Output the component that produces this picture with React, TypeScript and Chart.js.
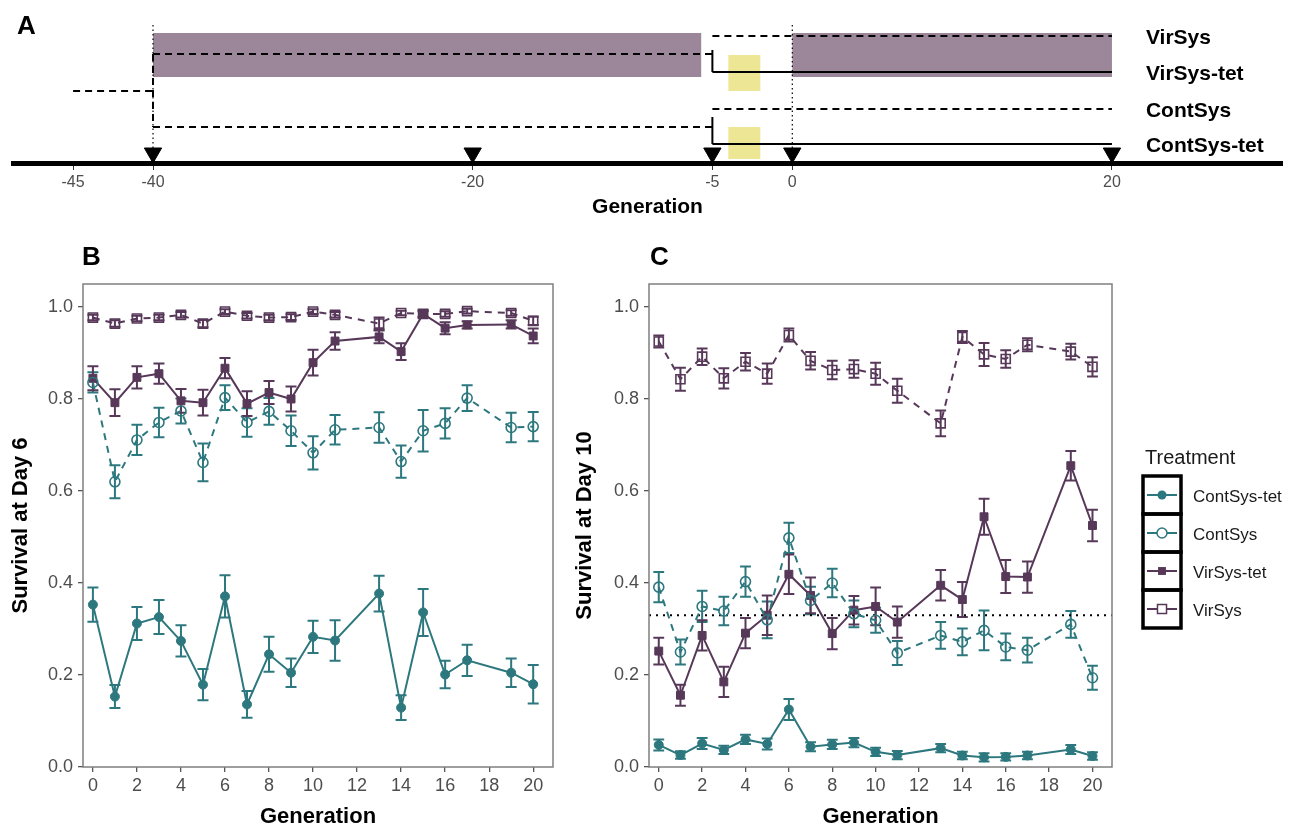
import React, { useEffect, useRef } from "react";
import { Chart, registerables } from "chart.js";
Chart.register(...registerables);

const FONT = "'Liberation Sans', Arial, Helvetica, sans-serif";
Chart.defaults.font.family = FONT;

const TEAL = "#2d787e";
const PURPLE = "#573859";
const MAUVE = "#9c879a";
const YELLOW = "#ece695";
const AXIS_TEXT = "#4d4d4d";
const FRAME = "#7f7f7f";

// ---------------- Panel A (experimental scheme) ----------------
const schemeTickValues = [-45, -40, -20, -5, 0, 20];
const transferGenerations = [-40, -20, -5, 0, 20];
const schemeRange = [-48.76, 30.64];
const laneNames = ["VirSys", "VirSys-tet", "ContSys", "ContSys-tet"];
const laneLevels = [1.6, 5.2, 8.9, 12.4];
const virusExposure = [[-40, -5.7], [0, 20]];
const virusBand = [1.3, 5.7];
const tetTreatment = [-4, -2];
const tetBands = [[3.5, 7.1], [10.7, 13.9]];
const referenceGenerations = [-40, 0];
const dashedPaths = [
  [-45, 7.1, -40, 7.1],
  [-40, 3.4, -40, 10.7],
  [-40, 3.4, -5, 3.4],
  [-40, 10.7, -5, 10.7],
  [-5, 1.6, 20, 1.6],
  [-5, 8.9, 20, 8.9],
];
const solidPaths = [
  [-5, 3.0, -5, 5.2],
  [-5, 5.2, 20, 5.2],
  [-5, 9.7, -5, 12.4],
  [-5, 12.4, 20, 12.4],
];
const schemeLevels = [0, 14.3]; // top of scheme, axis line
const transferMarkLevel = 13.3;

// ---------------- Panels B & C ----------------
const generations = [0, 1, 2, 3, 4, 5, 6, 7, 8, 9, 10, 11, 13, 14, 15, 16, 17, 19, 20];
const genTicks = [0, 2, 4, 6, 8, 10, 12, 14, 16, 18, 20];
const survivalTicks = [0, 0.2, 0.4, 0.6, 0.8, 1.0];
const treatments = ["ContSys-tet", "ContSys", "VirSys-tet", "VirSys"];
const genRange = [-0.45, 20.9];
const survivalRange = [0, 1.05];
const day10Reference = 0.33;

// Day 6
const day6ContSysTet = [0.353, 0.153, 0.312, 0.326, 0.274, 0.179, 0.371, 0.136, 0.245, 0.205, 0.283, 0.275, 0.377, 0.129, 0.336, 0.201, 0.232, 0.205, 0.180];
const day6ContSysTetSE = [0.037, 0.025, 0.036, 0.037, 0.034, 0.034, 0.046, 0.029, 0.038, 0.031, 0.035, 0.044, 0.039, 0.027, 0.051, 0.030, 0.034, 0.031, 0.042];
const day6ContSys = [0.836, 0.620, 0.711, 0.749, 0.774, 0.662, 0.803, 0.749, 0.773, 0.731, 0.683, 0.733, 0.738, 0.664, 0.731, 0.747, 0.802, 0.738, 0.740];
const day6ContSysSE = [0.022, 0.036, 0.033, 0.032, 0.027, 0.041, 0.027, 0.031, 0.029, 0.033, 0.036, 0.032, 0.033, 0.035, 0.045, 0.033, 0.028, 0.032, 0.032];
const day6VirSysTet = [0.845, 0.792, 0.847, 0.855, 0.796, 0.792, 0.867, 0.790, 0.814, 0.800, 0.879, 0.926, 0.935, 0.903, 0.985, 0.954, 0.961, 0.962, 0.937];
const day6VirSysTetSE = [0.026, 0.029, 0.024, 0.022, 0.026, 0.028, 0.022, 0.027, 0.025, 0.027, 0.028, 0.019, 0.014, 0.018, 0.008, 0.013, 0.008, 0.009, 0.016];
const day6VirSys = [0.977, 0.964, 0.975, 0.977, 0.983, 0.964, 0.990, 0.981, 0.977, 0.978, 0.990, 0.983, 0.964, 0.987, 0.985, 0.985, 0.991, 0.987, 0.970];
const day6VirSysSE = [0.006, 0.007, 0.006, 0.006, 0.006, 0.008, 0.005, 0.006, 0.006, 0.006, 0.005, 0.006, 0.013, 0.005, 0.006, 0.006, 0.005, 0.006, 0.009];

// Day 10
const day10ContSysTet = [0.048, 0.026, 0.051, 0.037, 0.060, 0.050, 0.125, 0.044, 0.049, 0.053, 0.033, 0.026, 0.041, 0.025, 0.021, 0.022, 0.025, 0.038, 0.024];
const day10ContSysTetSE = [0.012, 0.008, 0.012, 0.009, 0.010, 0.012, 0.023, 0.010, 0.010, 0.010, 0.009, 0.009, 0.009, 0.008, 0.009, 0.008, 0.008, 0.010, 0.008];
const day10ContSys = [0.391, 0.250, 0.349, 0.339, 0.403, 0.320, 0.498, 0.362, 0.400, 0.333, 0.319, 0.248, 0.286, 0.272, 0.297, 0.261, 0.254, 0.310, 0.194];
const day10ContSysSE = [0.033, 0.027, 0.034, 0.031, 0.033, 0.040, 0.033, 0.030, 0.031, 0.029, 0.027, 0.026, 0.029, 0.029, 0.043, 0.029, 0.027, 0.029, 0.026];
const day10VirSysTet = [0.252, 0.156, 0.286, 0.185, 0.291, 0.330, 0.419, 0.373, 0.290, 0.341, 0.349, 0.315, 0.395, 0.364, 0.544, 0.414, 0.413, 0.655, 0.525];
const day10VirSysTetSE = [0.029, 0.023, 0.033, 0.033, 0.033, 0.043, 0.043, 0.039, 0.034, 0.031, 0.041, 0.034, 0.033, 0.038, 0.039, 0.036, 0.034, 0.032, 0.034];
const day10VirSys = [0.925, 0.843, 0.892, 0.845, 0.881, 0.855, 0.939, 0.883, 0.863, 0.865, 0.855, 0.818, 0.747, 0.935, 0.897, 0.887, 0.918, 0.903, 0.870];
const day10VirSysSE = [0.013, 0.025, 0.018, 0.022, 0.019, 0.022, 0.014, 0.019, 0.020, 0.019, 0.024, 0.026, 0.028, 0.013, 0.025, 0.019, 0.014, 0.017, 0.021];

// series styles
const seriesStyle = [
  { color: TEAL, shape: "circle", filled: true, dashed: false, radius: 4.5 },
  { color: TEAL, shape: "circle", filled: false, dashed: true, radius: 5 },
  { color: PURPLE, shape: "rect", filled: true, dashed: false, radius: 5.6 },
  { color: PURPLE, shape: "rect", filled: false, dashed: true, radius: 6.4 },
];

// ---------------- plugins ----------------
const errorBarPlugin = {
  id: "errorBars",
  beforeDatasetsDraw(chart: any) {
    const { ctx, scales } = chart;
    const x = scales.x, y = scales.y;
    chart.data.datasets.forEach((ds: any) => {
      if (!ds.errs) return;
      const half = Math.abs(x.getPixelForValue(0.25) - x.getPixelForValue(0));
      ctx.save();
      ctx.strokeStyle = ds.borderColor;
      ctx.lineWidth = 2;
      ctx.setLineDash([]);
      ds.data.forEach((p: any, i: number) => {
        const e = ds.errs[i];
        const px = x.getPixelForValue(p.x);
        const t = y.getPixelForValue(p.y + e);
        const b = y.getPixelForValue(p.y - e);
        ctx.beginPath();
        ctx.moveTo(px, t); ctx.lineTo(px, b);
        ctx.moveTo(px - half, t); ctx.lineTo(px + half, t);
        ctx.moveTo(px - half, b); ctx.lineTo(px + half, b);
        ctx.stroke();
      });
      ctx.restore();
    });
  },
};

function framePlugin(letter: string, dx: number) {
  return {
    id: "frame" + letter,
    afterDraw(chart: any) {
      const { ctx, chartArea } = chart;
      ctx.save();
      ctx.strokeStyle = FRAME;
      ctx.lineWidth = 1.5;
      ctx.strokeRect(chartArea.left, chartArea.top, chartArea.right - chartArea.left, chartArea.bottom - chartArea.top);
      ctx.fillStyle = "#000";
      ctx.font = `bold 26px ${FONT}`;
      ctx.textAlign = "left";
      ctx.textBaseline = "middle";
      ctx.fillText(letter, chartArea.left + dx, chartArea.top - 26);
      ctx.restore();
    },
  };
}

function drawMarker(ctx: any, st: any, cx: number, cy: number) {
  ctx.save();
  ctx.strokeStyle = st.color;
  ctx.fillStyle = st.color;
  ctx.lineWidth = 1.5;
  ctx.beginPath();
  if (st.shape === "circle") ctx.arc(cx, cy, st.radius, 0, Math.PI * 2);
  else {
    const s = st.radius / Math.SQRT2;
    ctx.rect(cx - s, cy - s, 2 * s, 2 * s);
  }
  if (st.filled) ctx.fill();
  else {
    ctx.fillStyle = "#fff";
    ctx.fill();
    ctx.stroke();
  }
  ctx.restore();
}

const legendPlugin = {
  id: "treatmentLegend",
  afterDraw(chart: any) {
    const { ctx, chartArea } = chart;
    const left = chartArea.right + 31;
    const top = 246;
    const key = 38;
    ctx.save();
    ctx.fillStyle = "#1a1a1a";
    ctx.font = `20px ${FONT}`;
    ctx.textAlign = "left";
    ctx.textBaseline = "middle";
    ctx.fillText("Treatment", left + 2, top - 18);
    treatments.forEach((name, i) => {
      const st = seriesStyle[i];
      const y0 = top + i * key;
      const cy = y0 + key / 2;
      ctx.strokeStyle = st.color;
      ctx.lineWidth = 2;
      ctx.beginPath();
      ctx.moveTo(left + 4, cy);
      ctx.lineTo(left + key - 4, cy);
      ctx.stroke();
      drawMarker(ctx, st, left + key / 2, cy);
      ctx.fillStyle = "#1a1a1a";
      ctx.font = `17px ${FONT}`;
      ctx.fillText(name, left + 50, cy + 2);
    });
    ctx.strokeStyle = "#000";
    ctx.lineWidth = 3.5;
    for (let i = 0; i < treatments.length; i++) ctx.strokeRect(left, top + i * key, key, key);
    ctx.restore();
  },
};

const schemePlugin = {
  id: "scheme",
  beforeDatasetsDraw(chart: any) {
    const { ctx, scales } = chart;
    const x = scales.x, y = scales.y;
    ctx.save();
    ctx.fillStyle = MAUVE;
    virusExposure.forEach(([a, b]) => {
      const x0 = x.getPixelForValue(a), x1 = x.getPixelForValue(b);
      const y0 = y.getPixelForValue(virusBand[0]), y1 = y.getPixelForValue(virusBand[1]);
      ctx.fillRect(x0, y0, x1 - x0, y1 - y0);
    });
    ctx.fillStyle = YELLOW;
    tetBands.forEach(([a, b]) => {
      const x0 = x.getPixelForValue(tetTreatment[0]), x1 = x.getPixelForValue(tetTreatment[1]);
      const y0 = y.getPixelForValue(a), y1 = y.getPixelForValue(b);
      ctx.fillRect(x0, y0, x1 - x0, y1 - y0);
    });
    ctx.restore();
  },
  afterDraw(chart: any) {
    const { ctx, scales } = chart;
    const x = scales.x, y = scales.y;
    ctx.save();
    ctx.fillStyle = "#000";
    ctx.textAlign = "left";
    ctx.textBaseline = "middle";
    ctx.font = `bold 26px ${FONT}`;
    ctx.fillText("A", 17, 27);
    ctx.font = `bold 21px ${FONT}`;
    const lx = x.getPixelForValue(transferGenerations[transferGenerations.length - 1]) + 34;
    laneNames.forEach((n, i) => ctx.fillText(n, lx, y.getPixelForValue(laneLevels[i]) + 2));
    ctx.restore();
  },
};

// ---------------- configs ----------------
function seg(path: number[], dash: number[], width: number) {
  return {
    data: [{ x: path[0], y: path[1] }, { x: path[2], y: path[3] }],
    showLine: true,
    borderColor: "#000",
    borderWidth: width,
    borderDash: dash,
    pointRadius: 0,
    clip: false,
  };
}

function buildScheme() {
  const datasets: any[] = [
    {
      data: transferGenerations.map((g) => ({ x: g, y: transferMarkLevel })),
      pointStyle: "triangle",
      rotation: 180,
      pointRadius: 10,
      backgroundColor: "#000",
      borderColor: "#000",
      showLine: false,
      clip: false,
    },
    ...solidPaths.map((p) => seg(p, [], 2)),
    ...dashedPaths.map((p) => seg(p, [7, 5], 2)),
    ...referenceGenerations.map((g) => seg([g, schemeLevels[0] + 0.5, g, schemeLevels[1]], [1.5, 3], 1.2)),
  ];
  return {
    type: "scatter",
    data: { datasets },
    options: {
      animation: false,
      responsive: false,
      devicePixelRatio: 1,
      layout: { padding: { left: 13, right: 11, top: 20, bottom: 0 } },
      plugins: { legend: { display: false }, tooltip: { enabled: false } },
      scales: {
        x: {
          type: "linear",
          min: schemeRange[0],
          max: schemeRange[1],
          afterBuildTicks: (s: any) => { s.ticks = schemeTickValues.map((v) => ({ value: v })); },
          afterFit: (s: any) => { s.height = 65; },
          grid: { drawOnChartArea: false, drawTicks: true, tickLength: 7, color: "#333", lineWidth: 1 },
          border: { display: true, width: 5, color: "#000" },
          ticks: { color: AXIS_TEXT, font: { size: 16 }, padding: 3, maxRotation: 0, autoSkip: false },
          title: { display: true, text: "Generation", color: "#000", font: { size: 21, weight: "bold" }, padding: { top: 0, bottom: 8 } },
        },
        y: { display: false, min: schemeLevels[0], max: schemeLevels[1], reverse: true },
      },
    },
    plugins: [schemePlugin],
  };
}

function buildSurvival(letter: string, yTitle: string, series: number[][], errs: number[][], padRight: number, yWidth: number, titlePad: number, withRef: boolean) {
  const datasets: any[] = series.map((vals, i) => {
    const st = seriesStyle[i];
    return {
      label: treatments[i],
      data: generations.map((g, j) => ({ x: g, y: vals[j] })),
      errs: errs[i],
      showLine: true,
      borderColor: st.color,
      backgroundColor: st.color,
      borderWidth: 2,
      borderDash: st.dashed ? [7, 6] : [],
      pointStyle: st.shape,
      pointRadius: st.radius,
      pointBackgroundColor: st.filled ? st.color : "rgba(255,255,255,0)",
      pointBorderColor: st.color,
      pointBorderWidth: st.filled ? 1 : 1.6,
      clip: false,
    };
  });
  if (withRef) {
    datasets.push({
      data: [{ x: genRange[0], y: day10Reference }, { x: genRange[1], y: day10Reference }],
      showLine: true,
      borderColor: "#000",
      borderWidth: 2,
      borderDash: [2, 5],
      pointRadius: 0,
    });
  }
  return {
    type: "scatter",
    data: { datasets },
    options: {
      animation: false,
      responsive: false,
      devicePixelRatio: 1,
      layout: { padding: { left: 0, right: padRight, top: 54, bottom: 0 } },
      plugins: { legend: { display: false }, tooltip: { enabled: false } },
      scales: {
        x: {
          type: "linear",
          min: genRange[0],
          max: genRange[1],
          afterBuildTicks: (s: any) => { s.ticks = genTicks.map((v) => ({ value: v })); },
          afterFit: (s: any) => { s.height = 63; },
          grid: { drawOnChartArea: false, drawTicks: true, tickLength: 5, color: "#555", lineWidth: 1.3 },
          border: { display: false },
          ticks: { color: AXIS_TEXT, font: { size: 18 }, padding: 3, maxRotation: 0, autoSkip: false },
          title: { display: true, text: "Generation", color: "#000", font: { size: 22, weight: "bold" }, padding: { top: 0, bottom: 0 } },
        },
        y: {
          type: "linear",
          min: survivalRange[0],
          max: survivalRange[1],
          afterBuildTicks: (s: any) => { s.ticks = survivalTicks.map((v) => ({ value: v })); },
          afterFit: (s: any) => { s.width = yWidth; },
          grid: { drawOnChartArea: false, drawTicks: true, tickLength: 5, color: "#555", lineWidth: 1.3 },
          border: { display: false },
          ticks: { color: AXIS_TEXT, font: { size: 18 }, padding: 5, callback: (v: any) => Number(v).toFixed(1) },
          title: { display: true, text: yTitle, color: "#000", font: { size: 22, weight: "bold" }, padding: { top: titlePad, bottom: 0 } },
        },
      },
    },
    plugins: withRef ? [errorBarPlugin, framePlugin(letter, 1), legendPlugin] : [errorBarPlugin, framePlugin(letter, -1)],
  };
}

function ChartCanvas({ left, top, width, height, build }: any) {
  const ref = useRef<HTMLCanvasElement | null>(null);
  useEffect(() => {
    const chart = new Chart(ref.current as any, build());
    return () => chart.destroy();
  }, []);
  return <canvas ref={ref} width={width} height={height} style={{ position: "absolute", left, top, width, height }} />;
}

export default function App() {
  return (
    <div style={{ position: "absolute", left: 0, top: 0, width: 1293, height: 830, background: "#fff" }}>
      <ChartCanvas left={0} top={0} width={1293} height={228} build={buildScheme} />
      <ChartCanvas
        left={0}
        top={230}
        width={565}
        height={600}
        build={() =>
          buildSurvival("B", "Survival at Day 6",
            [day6ContSysTet, day6ContSys, day6VirSysTet, day6VirSys],
            [day6ContSysTetSE, day6ContSysSE, day6VirSysTetSE, day6VirSysSE],
            12, 83, 8, false)
        }
      />
      <ChartCanvas
        left={565}
        top={230}
        width={728}
        height={600}
        build={() =>
          buildSurvival("C", "Survival at Day 10",
            [day10ContSysTet, day10ContSys, day10VirSysTet, day10VirSys],
            [day10ContSysTetSE, day10ContSysSE, day10VirSysTetSE, day10VirSysSE],
            181, 84, 7, true)
        }
      />
    </div>
  );
}
